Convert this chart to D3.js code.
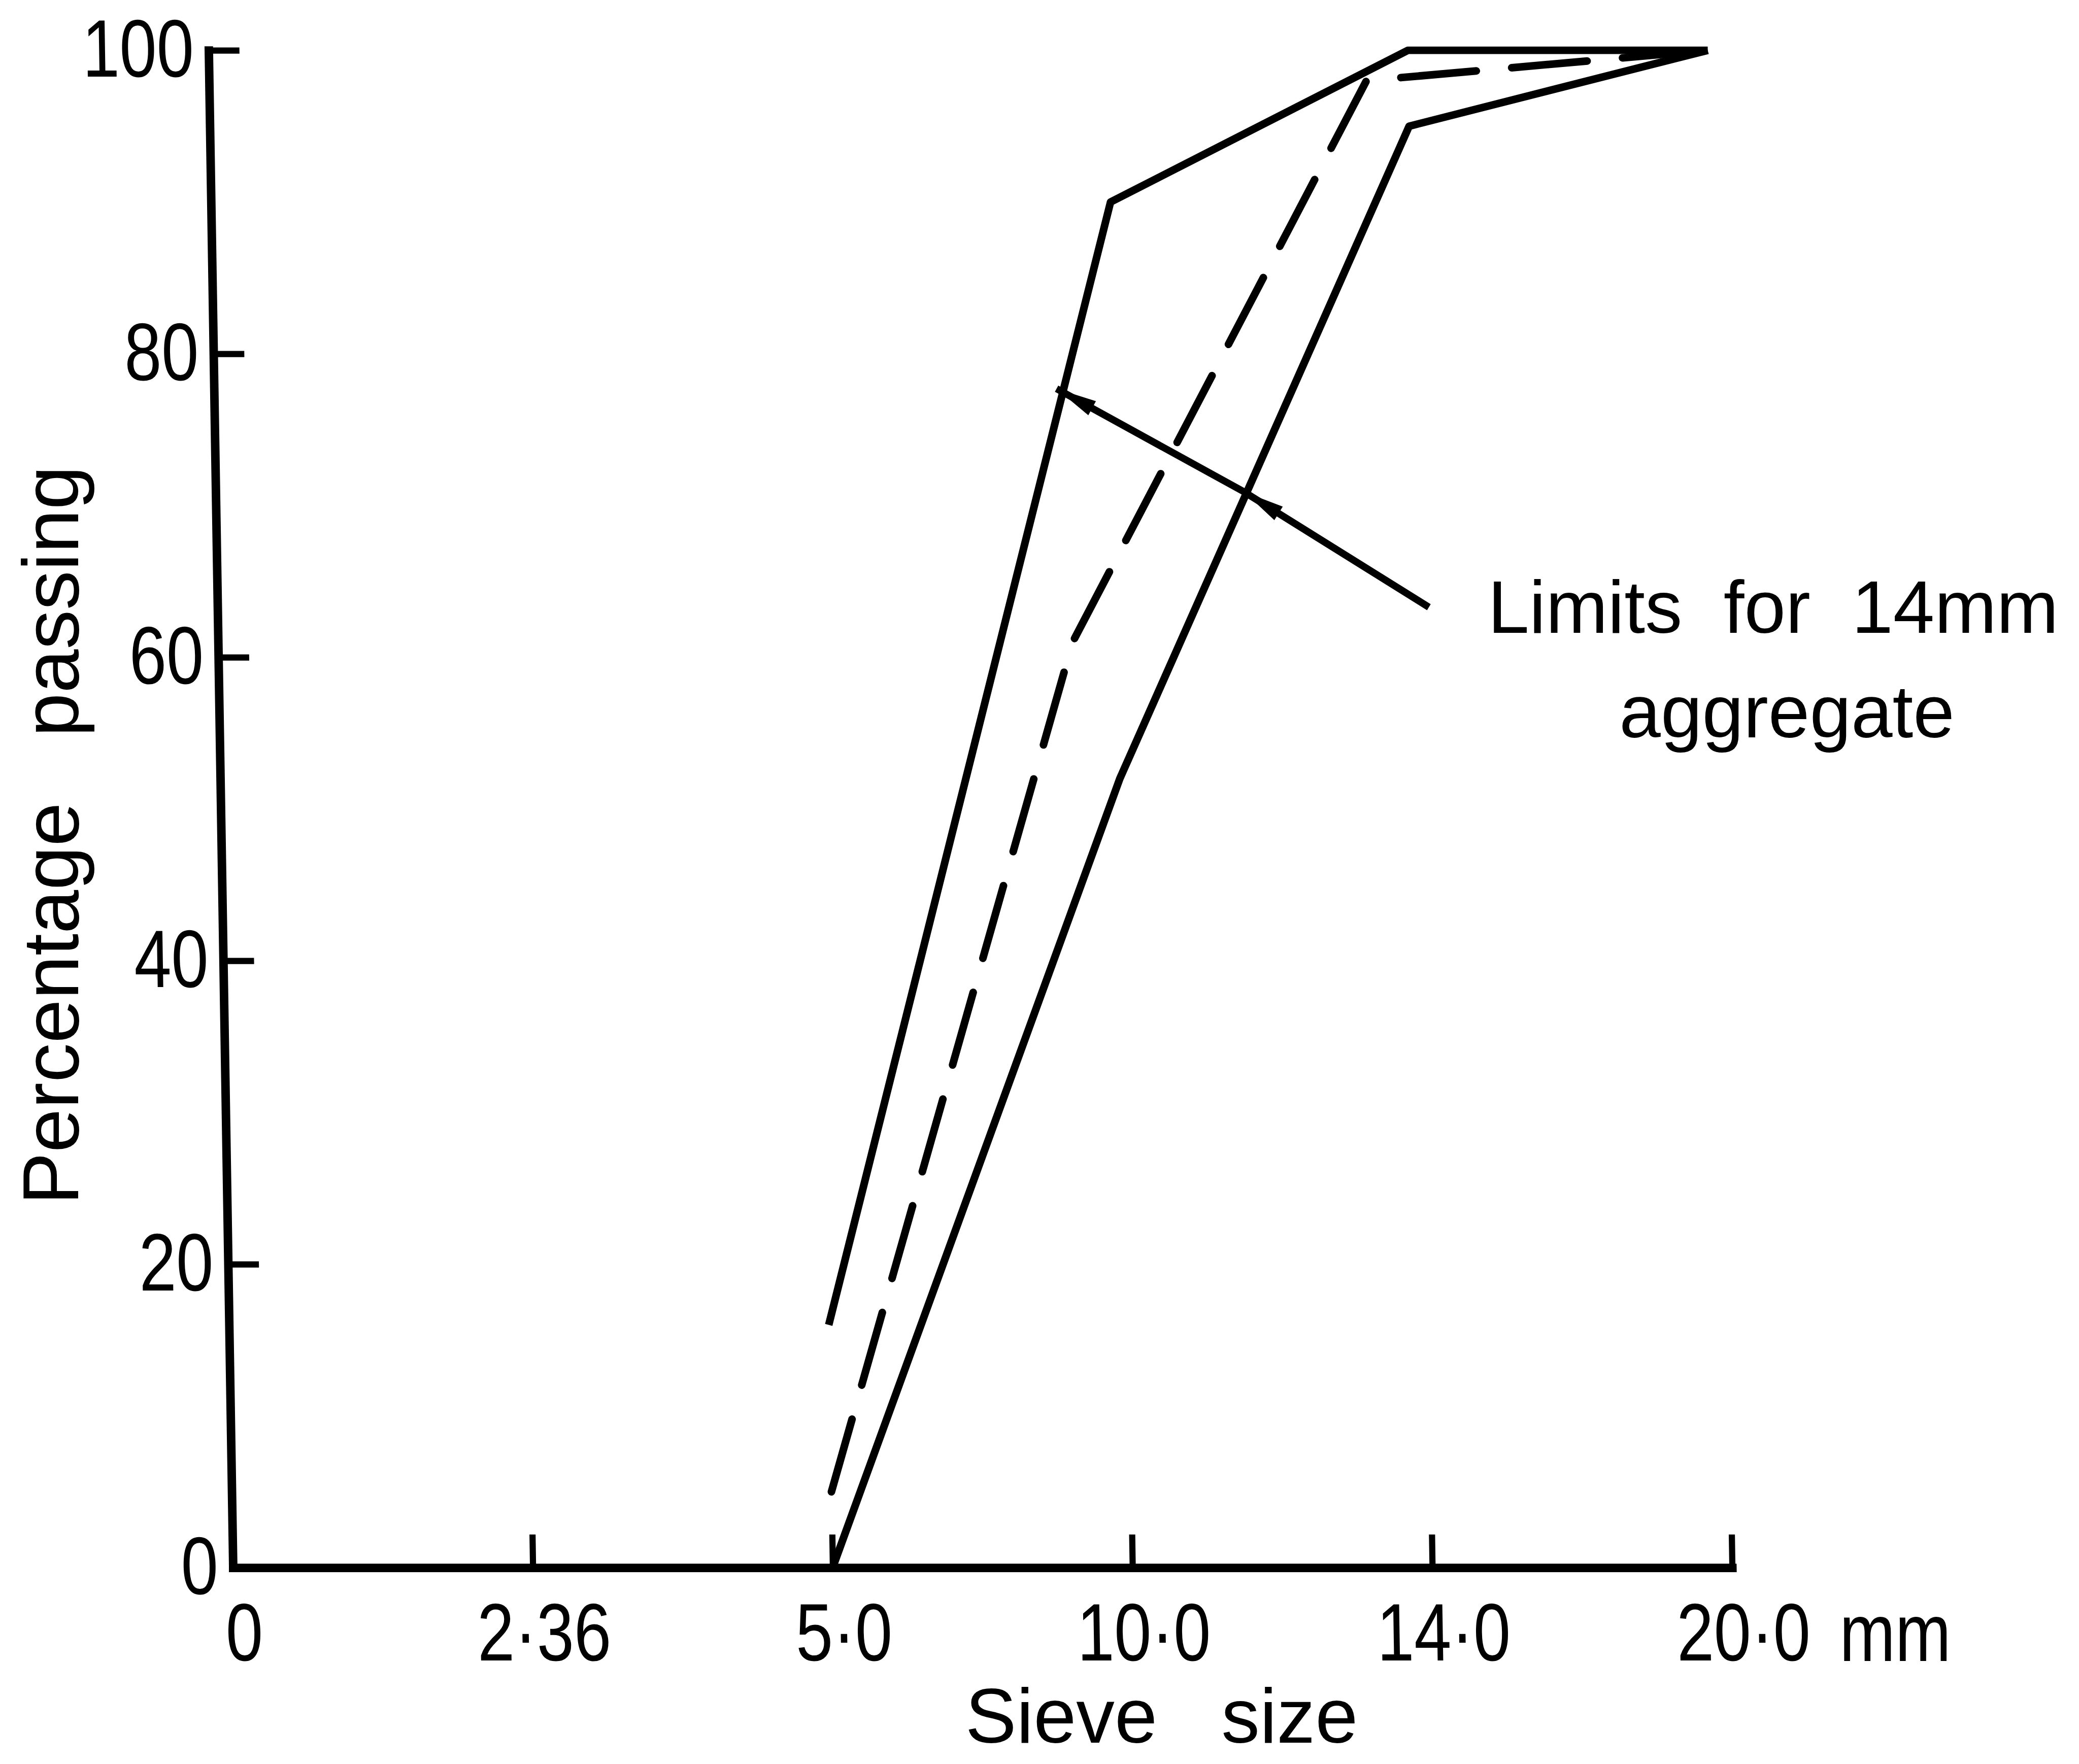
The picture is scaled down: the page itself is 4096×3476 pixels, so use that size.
<!DOCTYPE html>
<html>
<head>
<meta charset="utf-8">
<script src="https://cdn.jsdelivr.net/npm/d3@7"></script>
<style>
  body { margin: 0; background: #fff; }
  svg { display: block; }
</style>
</head>
<body>
<div id="chart"></div>
<script>
// 1. DATA
// ======================================

// sieve sizes sit at equal spacing on the chart, so x is the sieve index
var sieveLabels = ["0", "2·36", "5·0", "10·0", "14·0", "20·0"];
var percentTicks = [0, 20, 40, 60, 80, 100];

// upper limit for 14mm aggregate
var upperX = [2, 3, 4, 5];
var upperY = [16, 90, 100, 100];

// lower limit
var lowerX = [2, 3, 4, 5];
var lowerY = [0, 52, 95, 100];

// dashed grading curve (its bends fall a little short of the sieves)
var gradingX = [2, 2.85, 3.86, 5];
var gradingY = [5, 61, 98, 100];

// pointer: from the label, through the lower limit, to the upper limit
var arrowX = [4.04, 3.43, 2.81];
var arrowY = [63.3, 70.9, 77.7];

// 2. SET UP SVG
// ======================================

var svgWidth = 4096;
var svgHeight = 3476;
// drawn in the reference's own pixel units, the viewBox scales it down
var viewWidth = 4385;
var viewHeight = 3721;

var margin = { top: 106, left: 440 };
var width = 3162;
var height = 3201;
var skew = 0.92; // the scanned figure leans slightly

// the figure uses a narrow drafting face for numbers: squeeze a plain sans
var narrow = "scale(0.82, 1)";
var font = "'Liberation Sans', Arial, sans-serif";

var svg = d3.select("#chart")
  .append("svg")
  .attr("width", svgWidth)
  .attr("height", svgHeight)
  .attr("viewBox", `0 0 ${viewWidth} ${viewHeight}`);

svg.append("rect")
  .attr("width", viewWidth)
  .attr("height", viewHeight)
  .attr("fill", "#fff");

var chartGroup = svg.append("g")
  .attr("transform", `translate(${margin.left}, ${margin.top}) skewX(${skew})`);

// 3. SCALES & AXES
// ======================================

var xScale = d3.scaleLinear()
  .domain([0, sieveLabels.length - 1])
  .range([0, width]);

var yScale = d3.scaleLinear()
  .domain([0, 100])
  .range([height, 0]);

var bottomAxis = d3.axisBottom(xScale)
  .tickValues(d3.range(sieveLabels.length))
  .tickFormat(i => sieveLabels[i])
  .tickSizeInner(-70)
  .tickSizeOuter(0)
  .tickPadding(74);

var leftAxis = d3.axisLeft(yScale)
  .tickValues(percentTicks)
  .tickSizeInner(-65)
  .tickSizeOuter(0)
  .tickPadding(38);

var xAxis = chartGroup.append("g")
  .attr("transform", `translate(0, ${height})`)
  .call(bottomAxis);

var yAxis = chartGroup.append("g")
  .call(leftAxis);

[xAxis, yAxis].forEach(function(ax) {
  ax.select(".domain")
    .attr("stroke", "#000")
    .attr("stroke-width", 18)
    .attr("stroke-linecap", "square");
  ax.selectAll(".tick line")
    .attr("stroke", "#000")
    .attr("stroke-width", 13);
  ax.selectAll(".tick text")
    .attr("fill", "#000")
    .attr("font-family", font)
    .attr("font-size", 172)
    .attr("transform", narrow);
});

xAxis.selectAll(".tick text").attr("dx", 26);

// "mm" unit after the last sieve label
svg.append("text")
  .attr("transform", `translate(3880, 3504) ${narrow}`)
  .attr("font-family", font)
  .attr("font-size", 172)
  .text("mm");

// 4. CURVES
// ======================================

var line = d3.line()
  .x(d => xScale(d[0]))
  .y(d => yScale(d[1]));

chartGroup.append("path")
  .datum(d3.zip(upperX, upperY))
  .attr("d", line)
  .attr("fill", "none")
  .attr("stroke", "#000")
  .attr("stroke-width", 16)
  .attr("stroke-linejoin", "round");

chartGroup.append("path")
  .datum(d3.zip(lowerX, lowerY))
  .attr("d", line)
  .attr("fill", "none")
  .attr("stroke", "#000")
  .attr("stroke-width", 16)
  .attr("stroke-linejoin", "round");

chartGroup.append("path")
  .datum(d3.zip(gradingX, gradingY))
  .attr("d", line)
  .attr("fill", "none")
  .attr("stroke", "#000")
  .attr("stroke-width", 16)
  .attr("stroke-linecap", "round")
  .attr("stroke-dasharray", "160 75");

// 5. POINTER & LABELS
// ======================================

var arrowPts = d3.zip(arrowX, arrowY).map(d => [xScale(d[0]), yScale(d[1])]);

chartGroup.append("path")
  .attr("d", d3.line()(arrowPts))
  .attr("fill", "none")
  .attr("stroke", "#000")
  .attr("stroke-width", 15);

function arrowHead(from, to, len, half) {
  var dx = to[0] - from[0], dy = to[1] - from[1];
  var L = Math.hypot(dx, dy);
  var ux = dx / L, uy = dy / L;
  var bx = to[0] - ux * len, by = to[1] - uy * len;
  return `M${to[0]},${to[1]}L${bx - uy * half},${by + ux * half}L${bx + uy * half},${by - ux * half}Z`;
}

chartGroup.append("path")
  .attr("d", arrowHead(arrowPts[0], arrowPts[1], 85, 17))
  .attr("fill", "#000");

chartGroup.append("path")
  .attr("d", arrowHead(arrowPts[1], arrowPts[2], 85, 17))
  .attr("fill", "#000");

svg.append("text")
  .attr("x", 3740)
  .attr("y", 1335)
  .attr("font-family", font)
  .attr("font-size", 157)
  .attr("text-anchor", "middle")
  .attr("xml:space", "preserve")
  .style("white-space", "pre")
  .text("Limits  for  14mm");

svg.append("text")
  .attr("x", 3769)
  .attr("y", 1555)
  .attr("font-family", font)
  .attr("font-size", 157)
  .attr("text-anchor", "middle")
  .text("aggregate");

// axis titles
svg.append("text")
  .attr("x", 2450)
  .attr("y", 3676)
  .attr("font-family", font)
  .attr("font-size", 162)
  .attr("text-anchor", "middle")
  .attr("xml:space", "preserve")
  .style("white-space", "pre")
  .text("Sieve   size");

svg.append("text")
  .attr("transform", "translate(165, 1762) rotate(-90)")
  .attr("font-family", font)
  .attr("font-size", 166)
  .attr("text-anchor", "middle")
  .attr("xml:space", "preserve")
  .style("white-space", "pre")
  .text("Percentage   passing");
</script>
</body>
</html>
